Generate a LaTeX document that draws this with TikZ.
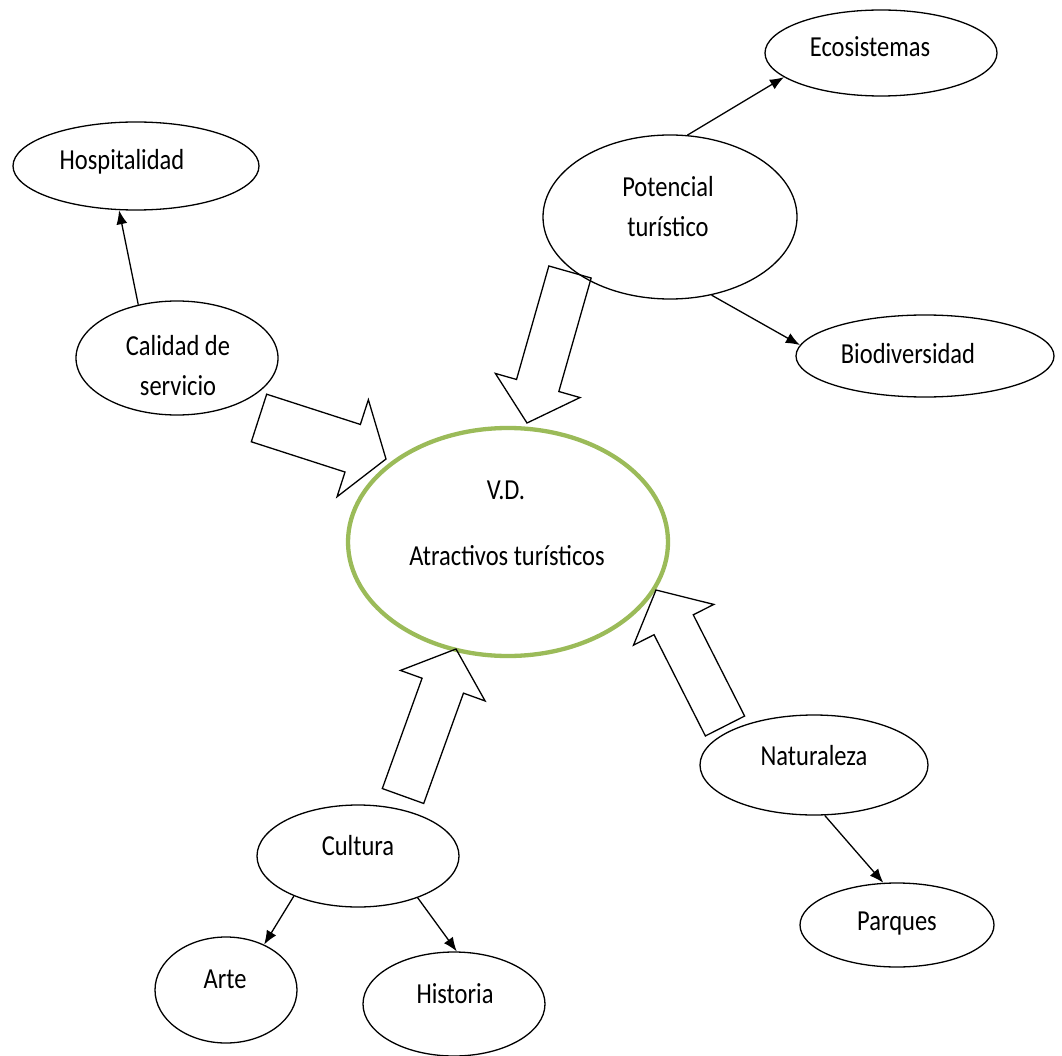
\documentclass[tikz,border=0pt]{standalone}
\usepackage{fontspec}
\setmainfont{Carlito}[FakeStretch=0.845]
\usetikzlibrary{shapes.geometric,arrows.meta,calc}
\definecolor{vdgreen}{HTML}{9BBB59}
\tikzset{
  ell/.style={draw=black, line width=1.3pt, ellipse, inner sep=0pt},
  vdell/.style={draw=vdgreen, line width=4.3pt, ellipse, inner sep=0pt},
  txt/.style={inner sep=0pt, anchor=base, font=\fontsize{29}{35}\selectfont, text=black},
  conn/.style={line width=1.3pt, -{Latex[length=14pt,width=11pt]}},
  bigarrow/.style={draw=black, line width=1.3pt, line join=miter}
}
\newcommand\blockarr[5]{%
  \coordinate (h) at ($(#2)!#5!(#1)$);
  \draw[bigarrow] ($(#1)!#3!90:(#2)$) -- ($(h)!#3!90:(#2)$) -- ($(h)!#4!90:(#2)$) -- (#2)
    -- ($(h)!#4!-90:(#2)$) -- ($(h)!#3!-90:(#2)$) -- ($(#1)!#3!-90:(#2)$) -- cycle;}
\begin{document}
\begin{tikzpicture}[x=1pt,y=-1pt]
\useasboundingbox (0,0) rectangle (1062,1056);
% ellipses
\node[ell, minimum width=246pt, minimum height=88pt] (hosp) at (136,166) {};
\node[ell, minimum width=202pt, minimum height=114pt] (cal) at (177,358) {};
\node[ell, minimum width=254pt, minimum height=164pt] (pot) at (670,217) {};
\node[ell, minimum width=232pt, minimum height=86pt] (eco) at (881,53) {};
\node[ell, minimum width=258pt, minimum height=82pt] (bio) at (925,356) {};
\node[ell, minimum width=228pt, minimum height=100pt] (nat) at (814,765) {};
\node[ell, minimum width=194pt, minimum height=84pt] (par) at (897,925) {};
\node[ell, minimum width=202pt, minimum height=102pt] (cul) at (358,856) {};
\node[ell, minimum width=142pt, minimum height=106pt] (arte) at (226,990) {};
\node[ell, minimum width=182pt, minimum height=104pt] (his) at (454,1004) {};
\node[vdell, minimum width=320pt, minimum height=228pt] (vd) at (508,542) {};
% texts
\node[txt] (hospt) at (122,170) {Hospitalidad};
\node[txt] (calt1) at (178,355) {Calidad de};
\node[txt] (calt2) at (178,395) {servicio};
\node[txt] (pott1) at (668,197) {Potencial};
\node[txt] (pott2) at (668,237) {turístico};
\node[txt] (ecot) at (870,57) {Ecosistemas};
\node[txt] (biot) at (908,363) {Biodiversidad};
\node[txt] (vdt1) at (506,499) {V.D.};
\node[txt] (vdt2) at (507,565) {Atractivos turísticos};
\node[txt] (natt) at (814,765) {Naturaleza};
\node[txt] (part) at (897,930) {Parques};
\node[txt] (cult) at (358,855) {Cultura};
\node[txt] (artet) at (225,988) {Arte};
\node[txt] (hist) at (455,1003) {Historia};
% thin connectors
\draw[conn] (cal.126) -- (hosp.249);
\draw[conn] (pot.78) -- (eco.194);
\draw[conn] (pot.298) -- (bio.175);
\draw[conn] (nat.282) -- (par.108);
\draw[conn] (cul.212) -- (arte.50);
\draw[conn] (cul.325) -- (his.87);
% block arrows
\coordinate (a1t) at (259,418); \coordinate (a1p) at (386,459);
\coordinate (a2t) at (570,272); \coordinate (a2p) at (527,423);
\coordinate (a3t) at (403,796); \coordinate (a3p) at (456,649);
\coordinate (a4t) at (725,726); \coordinate (a4p) at (656,590);
\blockarr{a1t}{a1p}{25pt}{51pt}{35pt}
\blockarr{a2t}{a2p}{22pt}{44pt}{39pt}
\blockarr{a3t}{a3p}{22pt}{45pt}{39pt}
\blockarr{a4t}{a4p}{22pt}{45pt}{39pt}
\end{tikzpicture}
\end{document}
